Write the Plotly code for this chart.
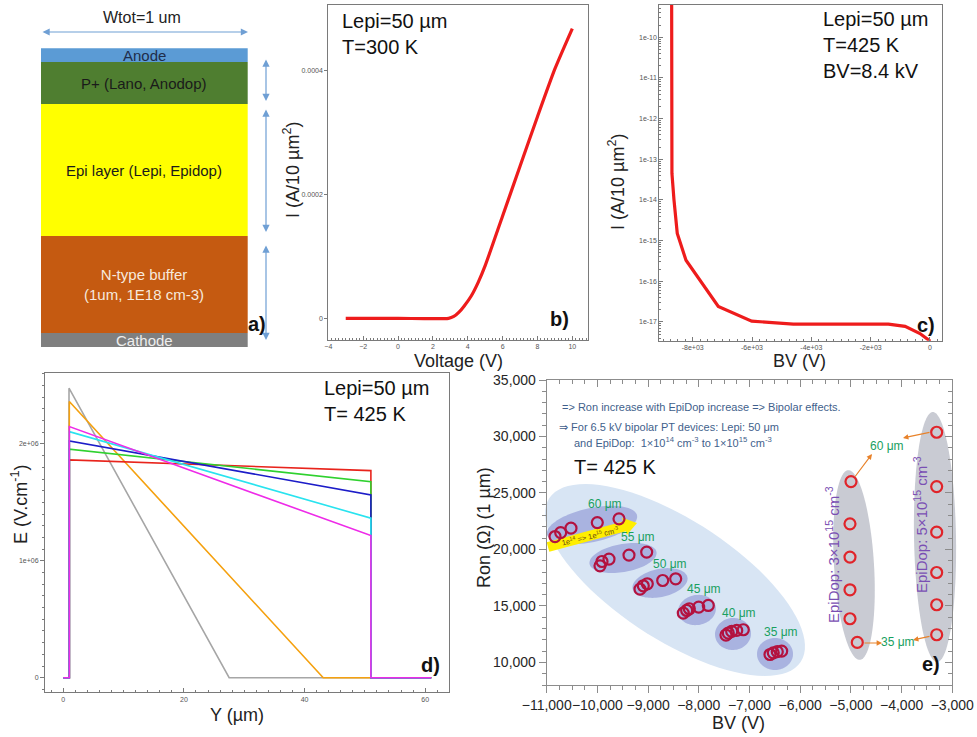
import math
import plotly.graph_objects as go

W, H = 977, 737
FONT = "Liberation Sans, Arial, sans-serif"

# ---------------- data ----------------
# a) layer stack (schematic thickness units, bottom -> top)
layer_names = ["Cathode", "N-type buffer<br>(1um, 1E18 cm-3)", "Epi layer (Lepi, Epidop)", "P+ (Lano, Anodop)", "Anode"]
layer_thick = [14, 97, 132, 42, 14]
layer_colors = ["#7f7f7f", "#c55a11", "#ffff00", "#4f7e30", "#5b9bd5"]
layer_text_colors = ["#eeeeee", "#f7e9dd", "#1a1a1a", "#1a1a1a", "#1f2d4a"]

# b) forward I-V
voltage_b = [-3, 0, 2.9, 3.2, 3.5, 3.8, 4.2, 4.6, 5, 6, 7, 8, 9, 10]
current_b = [0, 0, 0, 0.000003, 0.00001, 0.00002, 0.000036, 0.000058, 0.000085, 0.000165, 0.000245, 0.000325, 0.000402, 0.000467]

# c) reverse I-V (log)
bv_c = [-8710, -8700, -8631, -8520, -8226, -7137, -6010, -4607, -1403, -840, -337, -23, 0]
current_c = [1e-9, 4.5e-14, 1e-14, 1.5e-15, 3.3e-16, 2.4e-17, 1.05e-17, 8.9e-18, 8.9e-18, 7.8e-18, 5.2e-18, 3.5e-18, 3e-18]

# d) electric field profiles
y_rect = [0, 1, 1, 51, 51, 61]
E_red = [0, 0, 1.864e6, 1.772e6, 0, 0]
E_green = [0, 0, 1.955e6, 1.678e6, 0, 0]
E_blue = [0, 0, 2.027e6, 1.564e6, 0, 0]
E_cyan = [0, 0, 2.106e6, 1.365e6, 0, 0]
E_magenta = [0, 0, 2.149e6, 1.216e6, 0, 0]
y_orange = [0, 1, 1, 43.1, 61]
E_orange = [0, 0, 2.363e6, 0, 0]
y_gray = [0, 0.95, 0.95, 27.5, 61]
E_gray = [0, 0, 2.478e6, 0, 0]

# e) Ron vs BV
bv_60 = [-10836, -10724, -10521, -10002, -9574]
ron_60 = [21142, 21496, 21885, 22380, 22708]
bv_55 = [-9949, -9909, -9771, -9377, -9028]
ron_55 = [18551, 18932, 19144, 19498, 19763]
bv_50 = [-9160, -9095, -9016, -8712, -8456]
ron_50 = [16491, 16783, 16960, 17251, 17402]
bv_45 = [-8306, -8239, -8187, -8002, -7813]
ron_45 = [14368, 14598, 14749, 14899, 15040]
bv_40 = [-7464, -7418, -7351, -7252, -7122]
ron_40 = [12423, 12600, 12741, 12830, 12892]
bv_35 = [-6596, -6531, -6452, -6365]
ron_35 = [10700, 10850, 10950, 11000]
bv_3e15 = [-4998, -5018, -5018, -5018, -5018, -4874]
ron_3e15 = [26006, 22265, 19321, 16429, 13865, 11769]
bv_5e15 = [-3308, -3308, -3308, -3308, -3308, -3308]
ron_5e15 = [30375, 25564, 21532, 17959, 15103, 12450]


# ---------------- helpers ----------------
def px(x):
    return x / W


def py(y):
    return 1 - y / H


def ann(text, x, y, size, color="#1a1a1a", **kw):
    d = dict(text=text, x=px(x), y=py(y), xref="paper", yref="paper", showarrow=False,
             font=dict(size=size, color=color, family=FONT), xanchor="center", yanchor="middle")
    if "font_weight" in kw:
        d["font"]["weight"] = kw.pop("font_weight")
    d.update(kw)
    return d


def arrow(x0, y0, x1, y1, color, width=1.2, both=False, size=1.0, head=2):
    # arrow from (x0,y0) to (x1,y1) in pixel coords
    return dict(text="", x=px(x1), y=py(y1), xref="paper", yref="paper", showarrow=True,
                ax=x0 - x1, ay=y0 - y1, axref="pixel", ayref="pixel", arrowcolor=color,
                arrowwidth=width, arrowhead=head, arrowsize=size, startarrowhead=head,
                startarrowsize=size, arrowside="end+start" if both else "end", standoff=0, startstandoff=0)


def ellipse(cx, cy, rx, ry, ang, color, n=90):
    th = math.radians(ang)
    pts = []
    for k in range(n):
        t = 2 * math.pi * k / n
        ex, ey = rx * math.cos(t), ry * math.sin(t)
        x = cx + ex * math.cos(th) - ey * math.sin(th)
        y = cy + ex * math.sin(th) + ey * math.cos(th)
        pts.append(f"{px(x):.5f},{py(y):.5f}")
    return dict(type="path", path="M " + " L ".join(pts) + " Z", xref="paper", yref="paper",
                fillcolor=color, line=dict(width=0), layer="below")


def poly(points, color):
    pts = [f"{px(x):.5f},{py(y):.5f}" for x, y in points]
    return dict(type="path", path="M " + " L ".join(pts) + " Z", xref="paper", yref="paper",
                fillcolor=color, line=dict(width=0), layer="below")


fig = go.Figure()

# ---------------- a) layer stack ----------------
for name, t, c in zip(layer_names, layer_thick, layer_colors):
    fig.add_trace(go.Bar(x=[0.5], y=[t], width=[1], marker=dict(color=c, line=dict(width=0)),
                         xaxis="x", yaxis="y", hoverinfo="skip", name=name))

# ---------------- b) ----------------
fig.add_trace(go.Scatter(x=voltage_b, y=current_b, mode="lines", line=dict(color="#ee1c1c", width=3.2, shape="spline", smoothing=0.6),
                         xaxis="x2", yaxis="y2", hoverinfo="skip"))
# ---------------- c) ----------------
fig.add_trace(go.Scatter(x=bv_c, y=current_c, mode="lines", line=dict(color="#ee1c1c", width=3.2),
                         xaxis="x3", yaxis="y3", hoverinfo="skip"))
# ---------------- d) ----------------
d_curves = [
    (y_gray, E_gray, "#a6a6a6"),
    (y_orange, E_orange, "#f5a10f"),
    (y_rect, E_red, "#e8241c"),
    (y_rect, E_green, "#2fd12f"),
    (y_rect, E_blue, "#1c1cc8"),
    (y_rect, E_cyan, "#29e3ef"),
    (y_rect, E_magenta, "#ee2be8"),
]
for xs, ys, col in d_curves:
    fig.add_trace(go.Scatter(x=xs, y=ys, mode="lines", line=dict(color=col, width=1.6),
                             xaxis="x4", yaxis="y4", hoverinfo="skip"))

# ---------------- e) ----------------
crimson = "#b3123f"
red = "#e0242a"
for bx, rn in [(bv_60, ron_60), (bv_55, ron_55), (bv_50, ron_50), (bv_45, ron_45), (bv_40, ron_40), (bv_35, ron_35)]:
    fig.add_trace(go.Scatter(x=bx, y=rn, mode="markers", xaxis="x5", yaxis="y5", hoverinfo="skip",
                             marker=dict(symbol="circle-open", size=11, color=crimson, line=dict(width=2.2, color=crimson))))
for bx, rn in [(bv_3e15, ron_3e15), (bv_5e15, ron_5e15)]:
    fig.add_trace(go.Scatter(x=bx, y=rn, mode="markers", xaxis="x5", yaxis="y5", hoverinfo="skip",
                             marker=dict(symbol="circle-open", size=11, color=red, line=dict(width=2.2, color=red))))
# dummy traces for mirrored inside ticks
fig.add_trace(go.Scatter(x=[-11000], y=[8000], mode="markers", marker=dict(opacity=0), xaxis="x6", yaxis="y5", hoverinfo="skip"))
fig.add_trace(go.Scatter(x=[-11000], y=[8000], mode="markers", marker=dict(opacity=0), xaxis="x5", yaxis="y6", hoverinfo="skip"))

# ---------------- axes ----------------
small_tick = dict(size=7, color="#555555", family=FONT)
frame = "#7a7a7a"
axes = {}
axes["xaxis"] = dict(domain=[px(40.7), px(247.7)], range=[0, 1], visible=False, anchor="y")
axes["yaxis"] = dict(domain=[py(347.3), py(48.3)], range=[0, sum(layer_thick)], visible=False, anchor="x")

axes["xaxis2"] = dict(domain=[px(328.3), px(588)], range=[-4, 10.9], anchor="y2", showline=True, mirror=True,
                      linecolor=frame, linewidth=1, tickmode="array", tickvals=[-4, -2, 0, 2, 4, 6, 8, 10],
                      ticks="inside", ticklen=4, tickcolor=frame, tickfont=small_tick, showgrid=False, zeroline=False,
                      minor=dict(tickmode="linear", tick0=0, dtick=0.2, ticks="inside", ticklen=2, tickcolor=frame))
axes["yaxis2"] = dict(domain=[py(340), py(5)], range=[-0.0000349, 0.000505], anchor="x2", showline=True, mirror=True,
                      linecolor=frame, linewidth=1, tickmode="array", tickvals=[0, 0.0002, 0.0004],
                      ticktext=["0", "0.0002", "0.0004"], ticks="outside", ticklen=3, tickcolor=frame,
                      tickfont=small_tick, showgrid=False, zeroline=False)

axes["xaxis3"] = dict(domain=[px(659.3), px(942.3)], range=[-9126, 415], anchor="y3", showline=True, mirror=True,
                      linecolor=frame, linewidth=1, tickmode="array", tickvals=[-8000, -6000, -4000, -2000, 0],
                      ticktext=["-8e+03", "-6e+03", "-4e+03", "-2e+03", "0"], ticks="inside", ticklen=4,
                      tickcolor=frame, tickfont=small_tick, showgrid=False, zeroline=False,
                      minor=dict(tickmode="linear", tick0=0, dtick=250, ticks="inside", ticklen=2, tickcolor=frame))
axes["yaxis3"] = dict(domain=[py(340.7), py(5)], type="log", range=[-17.46, -9.206], anchor="x3", showline=True,
                      mirror=True, linecolor=frame, linewidth=1, tickmode="array",
                      tickvals=[10.0 ** (-k) for k in range(10, 18)],
                      ticktext=[f"1e-{k}" for k in range(10, 18)], ticks="inside", ticklen=4, tickcolor=frame,
                      tickfont=small_tick, showgrid=False, zeroline=False,
                      minor=dict(tickmode="linear", dtick="D1", ticks="inside", ticklen=2, tickcolor=frame))

axes["xaxis4"] = dict(domain=[px(45), px(449.3)], range=[-3.03, 64.0], anchor="y4", showline=True, mirror=True,
                      linecolor=frame, linewidth=1, tickmode="array", tickvals=[0, 20, 40, 60], ticks="inside",
                      ticklen=4, tickcolor=frame, tickfont=small_tick, showgrid=False, zeroline=False,
                      minor=dict(tickmode="linear", tick0=0, dtick=2, ticks="inside", ticklen=2, tickcolor=frame))
axes["yaxis4"] = dict(domain=[py(692.3), py(373.3)], range=[-0.125e6, 2.605e6], anchor="x4", showline=True,
                      mirror=True, linecolor=frame, linewidth=1, tickmode="array", tickvals=[0, 1e6, 2e6],
                      ticktext=["0", "1e+06", "2e+06"], ticks="outside", ticklen=4, tickcolor=frame,
                      tickfont=small_tick, showgrid=False, zeroline=False,
                      minor=dict(tickmode="linear", tick0=0, dtick=1e5, ticks="outside", ticklen=2, tickcolor=frame))

e_frame = "#8c8c8c"
e_tick = dict(size=14, color="#262626", family=FONT)
axes["xaxis5"] = dict(domain=[px(546.7), px(952.3)], range=[-11000, -3000], anchor="y5", showline=True,
                      linecolor=e_frame, linewidth=1, tickmode="linear", tick0=0, dtick=1000, tickformat=",",
                      tickangle=0, ticks="outside", ticklen=7, tickcolor=e_frame, tickfont=e_tick, showgrid=False,
                      zeroline=False,
                      minor=dict(tickmode="linear", tick0=0, dtick=250, ticks="outside", ticklen=4, tickcolor=e_frame))
axes["yaxis5"] = dict(domain=[py(685), py(380)], range=[8000, 35000], anchor="x5", showline=True,
                      linecolor=e_frame, linewidth=1, tickmode="linear", tick0=0, dtick=5000, tickformat=",",
                      ticks="outside", ticklen=7, tickcolor=e_frame, tickfont=e_tick, showgrid=False, zeroline=False,
                      minor=dict(tickmode="linear", tick0=0, dtick=1000, ticks="outside", ticklen=4, tickcolor=e_frame))
axes["xaxis6"] = dict(overlaying="x5", side="top", anchor="y5", range=[-11000, -3000], showline=True,
                      linecolor=e_frame, linewidth=1, tickmode="linear", tick0=0, dtick=1000, showticklabels=False,
                      ticks="inside", ticklen=7, tickcolor=e_frame, showgrid=False, zeroline=False,
                      minor=dict(tickmode="linear", tick0=0, dtick=250, ticks="inside", ticklen=4, tickcolor=e_frame))
axes["yaxis6"] = dict(overlaying="y5", side="right", anchor="x5", range=[8000, 35000], showline=True,
                      linecolor=e_frame, linewidth=1, tickmode="linear", tick0=0, dtick=5000, showticklabels=False,
                      ticks="inside", ticklen=7, tickcolor=e_frame, showgrid=False, zeroline=False,
                      minor=dict(tickmode="linear", tick0=0, dtick=1000, ticks="inside", ticklen=4, tickcolor=e_frame))
for k in axes:
    axes[k]["automargin"] = False

# ---------------- annotations ----------------
annotations = []
# a) labels inside layers (data coords)
cum = 0
for name, t, tc in zip(layer_names, layer_thick, layer_text_colors):
    annotations.append(dict(text=name, x=0.5, y=cum + t / 2, xref="x", yref="y", showarrow=False,
                            font=dict(size=15, color=tc, family=FONT), align="center"))
    cum += t
annotations.append(ann("Wtot=1 um", 142, 17, 16, "#222222"))
annotations.append(arrow(41, 32, 248, 32, "#6f9fd4", width=1.2, both=True, size=1.2))
annotations.append(arrow(266, 58, 266, 101, "#6f9fd4", width=1.2, both=True, size=1.2))
annotations.append(arrow(266, 108, 266, 232, "#6f9fd4", width=1.2, both=True, size=1.2))
annotations.append(arrow(266, 244, 266, 340, "#6f9fd4", width=1.2, both=True, size=1.2))
annotations.append(ann("a)", 257, 324, 20, "#111111", font_weight="bold"))

# b) texts
annotations.append(ann("Lepi=50 µm<br>T=300 K", 340, 34, 20, "#111111", xanchor="left", align="left"))
annotations.append(ann("b)", 559, 319, 20, "#111111", font_weight="bold"))
annotations.append(ann("I (A/10 µm<sup>2</sup>)", 291, 170, 18, "#222222", textangle=-90))
annotations.append(ann("Voltage (V)", 458, 361, 18, "#222222"))

# c) texts
annotations.append(ann("Lepi=50 µm<br>T=425 K<br>BV=8.4 kV", 821, 45, 20, "#111111", xanchor="left", align="left"))
annotations.append(ann("c)", 926, 325, 20, "#111111", font_weight="bold"))
annotations.append(ann("I (A/10 µm<sup>2</sup>)", 616, 182, 18, "#222222", textangle=-90))
annotations.append(ann("BV (V)", 799, 361, 18, "#222222"))

# d) texts
annotations.append(ann("Lepi=50 µm<br>T= 425 K", 322, 401, 20, "#111111", xanchor="left", align="left"))
annotations.append(ann("d)", 430, 665, 20, "#111111", font_weight="bold"))
annotations.append(ann("E (V.cm<sup>-1</sup>)", 19, 504, 18, "#222222", textangle=-90))
annotations.append(ann("Y (µm)", 237, 715, 18, "#222222"))

# e) texts
blue_txt = "#3f5f8c"
annotations.append(ann("=> Ron increase with EpiDop increase => Bipolar effects.", 560, 407, 11, blue_txt, xanchor="left"))
annotations.append(ann("⇒ For 6.5 kV bipolar PT devices: Lepi: 50 μm", 557, 427, 11, blue_txt, xanchor="left"))
annotations.append(ann("and EpiDop:  1×10<sup>14</sup> cm<sup>-3</sup> to 1×10<sup>15</sup> cm<sup>-3</sup>", 572, 442, 11, blue_txt, xanchor="left"))
annotations.append(ann("T= 425 K", 572, 467, 20, "#111111", xanchor="left"))
green = "#18a060"
for txt, x, y in [("60 μm", 605, 504), ("55 μm", 638, 537), ("50 μm", 670, 564), ("45 μm", 704, 589),
                  ("40 μm", 739, 613), ("35 μm", 781, 632), ("60 μm", 887, 446), ("35 μm", 898, 642)]:
    annotations.append(ann(txt, x, y, 12, green))
purple = "#7a4fb3"
annotations.append(ann("EpiDop: 3×10<sup>15</sup> cm<sup>-3</sup>", 832, 555, 15, purple, textangle=-90))
annotations.append(ann("EpiDop: 5×10<sup>15</sup> cm<sup>-3</sup>", 920, 525, 15, purple, textangle=-90))
annotations.append(ann("1e<sup>14</sup> => 1e<sup>15</sup> cm<sup>-3</sup>", 590, 536, 7.5, "#6b4a12", textangle=-13))
orange = "#e8822a"
annotations.append(arrow(854, 478, 872, 454, orange, width=1.2, size=0.9))
annotations.append(arrow(931, 432, 903, 438, orange, width=1.2, size=0.9))
annotations.append(arrow(863, 643, 882, 643, orange, width=1.2, size=0.9))
annotations.append(arrow(931, 636, 913, 640, orange, width=1.2, size=0.9))
annotations.append(ann("e)", 931, 664, 20, "#111111", font_weight="bold"))
annotations.append(ann("Ron (Ω) (1 µm)", 484, 528, 18, "#222222", textangle=-90))
annotations.append(ann("BV (V)", 738, 723, 18, "#222222"))

# ---------------- shapes (panel e decorations) ----------------
shapes = []
shapes.append(ellipse(675, 580, 150, 60, 33, "#d8e5f4"))
for cx, cy, rx, ry, a in [(592, 525, 46, 17, -12), (623, 558, 34, 14, -10), (660, 583, 28, 14, -12),
                          (697, 610, 19, 15, -10), (733, 634, 18, 16, -5), (775, 654, 18, 16, 0)]:
    shapes.append(ellipse(cx, cy, rx, ry, a, "#a9b3e0"))
shapes.append(ellipse(854, 565, 20, 95, -3.5, "#c9cbd3"))
shapes.append(ellipse(935, 537, 21, 125, -1, "#c9cbd3"))
# yellow arrow
sx, sy, ex_, ey_ = 548, 547, 637, 523
L = math.hypot(ex_ - sx, ey_ - sy)
dx, dy = (ex_ - sx) / L, (ey_ - sy) / L
nx, ny = -dy, dx
hx, hy = ex_ - 13 * dx, ey_ - 13 * dy
pts = [(sx - 5 * nx, sy - 5 * ny), (hx - 5 * nx, hy - 5 * ny), (hx - 9 * nx, hy - 9 * ny), (ex_, ey_),
       (hx + 9 * nx, hy + 9 * ny), (hx + 5 * nx, hy + 5 * ny), (sx + 5 * nx, sy + 5 * ny)]
shapes.append(poly(pts, "#ffee00"))

fig.update_layout(
    width=W, height=H, margin=dict(l=0, r=0, t=0, b=0, autoexpand=False), autosize=False,
    paper_bgcolor="white", plot_bgcolor="rgba(0,0,0,0)", showlegend=False,
    barmode="stack", bargap=0, font=dict(family=FONT),
    annotations=annotations, shapes=shapes, **axes,
)

fig.write_html("out.html", config={"displayModeBar": False},
               post_script="document.body.style.margin='0px';")
